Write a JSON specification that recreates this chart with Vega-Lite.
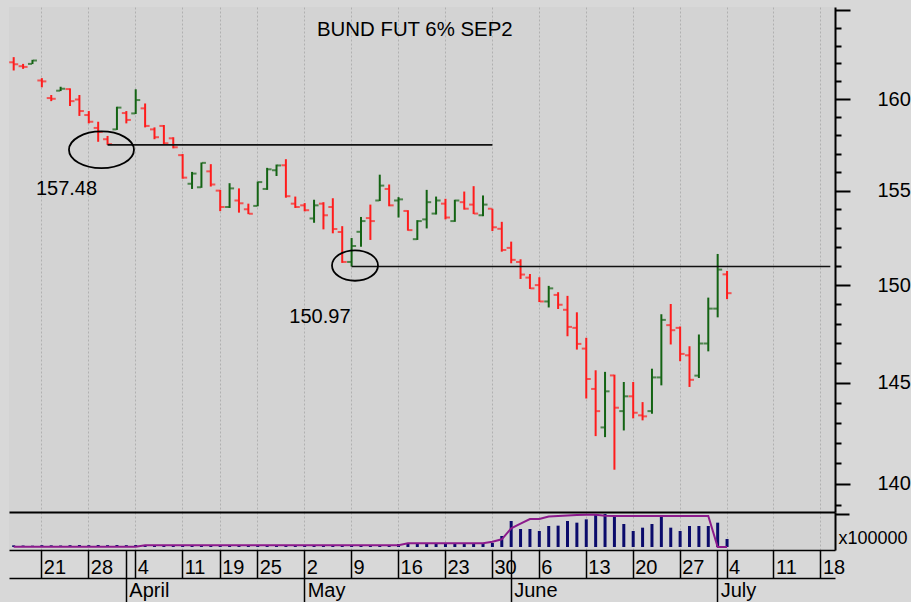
{
  "$schema": "https://vega.github.io/schema/vega-lite/v6.json",
  "background": "#d8d8d8",
  "padding": {"left": 9, "top": 0, "right": 0, "bottom": 0},
  "spacing": 0,
  "bounds": "flush",
  "config": {
    "view": {"stroke": null, "fill": "#d3d3d3"},
    "font": "Liberation Sans",
    "text": {"font": "Liberation Sans"}
  },
  "resolve": {"scale": {"x": "independent", "y": "independent"}},
  "datasets": {
    "px": [
      {"d": "2022-03-16", "o": 162.06, "h": 162.35, "l": 161.60, "c": 161.95, "v": 50000, "oi": 10000},
      {"d": "2022-03-17", "o": 161.84, "h": 161.97, "l": 161.69, "c": 161.80, "v": 45000, "oi": 10000},
      {"d": "2022-03-18", "o": 161.97, "h": 162.20, "l": 161.96, "c": 162.16, "v": 40000, "oi": 10000},
      {"d": "2022-03-21", "o": 161.04, "h": 161.17, "l": 160.66, "c": 160.99, "v": 55000, "oi": 10000},
      {"d": "2022-03-22", "o": 160.06, "h": 160.23, "l": 159.89, "c": 160.02, "v": 50000, "oi": 10000},
      {"d": "2022-03-23", "o": 160.47, "h": 160.69, "l": 160.45, "c": 160.58, "v": 45000, "oi": 10000},
      {"d": "2022-03-24", "o": 160.56, "h": 160.60, "l": 159.62, "c": 159.89, "v": 55000, "oi": 10000},
      {"d": "2022-03-25", "o": 159.98, "h": 160.23, "l": 159.07, "c": 159.34, "v": 60000, "oi": 10000},
      {"d": "2022-03-28", "o": 159.12, "h": 159.34, "l": 158.66, "c": 158.75, "v": 55000, "oi": 10000},
      {"d": "2022-03-29", "o": 158.41, "h": 158.75, "l": 157.65, "c": 158.19, "v": 60000, "oi": 10000},
      {"d": "2022-03-30", "o": 157.79, "h": 157.97, "l": 157.48, "c": 157.52, "v": 55000, "oi": 10000},
      {"d": "2022-03-31", "o": 158.33, "h": 159.58, "l": 158.30, "c": 159.53, "v": 60000, "oi": 10000},
      {"d": "2022-04-01", "o": 159.23, "h": 159.34, "l": 158.66, "c": 158.85, "v": 55000, "oi": 10000},
      {"d": "2022-04-04", "o": 159.21, "h": 160.55, "l": 159.18, "c": 159.95, "v": 60000, "oi": 10000},
      {"d": "2022-04-05", "o": 159.49, "h": 159.76, "l": 158.44, "c": 158.52, "v": 60000, "oi": 50000},
      {"d": "2022-04-06", "o": 158.33, "h": 158.44, "l": 157.79, "c": 157.90, "v": 55000, "oi": 50000},
      {"d": "2022-04-07", "o": 158.52, "h": 158.57, "l": 157.53, "c": 157.57, "v": 60000, "oi": 50000},
      {"d": "2022-04-08", "o": 157.84, "h": 157.90, "l": 157.29, "c": 157.35, "v": 55000, "oi": 50000},
      {"d": "2022-04-11", "o": 156.92, "h": 156.98, "l": 155.64, "c": 155.70, "v": 60000, "oi": 50000},
      {"d": "2022-04-12", "o": 155.37, "h": 156.01, "l": 155.09, "c": 155.92, "v": 55000, "oi": 50000},
      {"d": "2022-04-13", "o": 155.18, "h": 156.52, "l": 155.15, "c": 156.50, "v": 60000, "oi": 50000},
      {"d": "2022-04-14", "o": 156.04, "h": 156.43, "l": 155.22, "c": 155.33, "v": 55000, "oi": 50000},
      {"d": "2022-04-19", "o": 155.00, "h": 155.04, "l": 153.90, "c": 154.12, "v": 60000, "oi": 50000},
      {"d": "2022-04-20", "o": 154.12, "h": 155.40, "l": 154.07, "c": 155.12, "v": 55000, "oi": 50000},
      {"d": "2022-04-21", "o": 154.47, "h": 155.12, "l": 153.82, "c": 154.32, "v": 60000, "oi": 50000},
      {"d": "2022-04-22", "o": 154.00, "h": 154.30, "l": 153.74, "c": 153.76, "v": 55000, "oi": 50000},
      {"d": "2022-04-25", "o": 154.18, "h": 155.49, "l": 154.16, "c": 155.46, "v": 60000, "oi": 50000},
      {"d": "2022-04-26", "o": 155.09, "h": 156.23, "l": 155.04, "c": 156.15, "v": 55000, "oi": 50000},
      {"d": "2022-04-27", "o": 156.10, "h": 156.41, "l": 155.79, "c": 156.36, "v": 60000, "oi": 50000},
      {"d": "2022-04-28", "o": 156.37, "h": 156.70, "l": 154.62, "c": 154.70, "v": 60000, "oi": 50000},
      {"d": "2022-04-29", "o": 154.30, "h": 154.68, "l": 154.07, "c": 154.12, "v": 55000, "oi": 50000},
      {"d": "2022-05-02", "o": 154.21, "h": 154.33, "l": 153.89, "c": 153.95, "v": 60000, "oi": 50000},
      {"d": "2022-05-03", "o": 153.51, "h": 154.51, "l": 153.28, "c": 154.21, "v": 55000, "oi": 50000},
      {"d": "2022-05-04", "o": 154.30, "h": 154.38, "l": 152.93, "c": 153.68, "v": 60000, "oi": 50000},
      {"d": "2022-05-05", "o": 154.12, "h": 154.59, "l": 152.72, "c": 152.95, "v": 60000, "oi": 50000},
      {"d": "2022-05-06", "o": 152.79, "h": 153.10, "l": 151.16, "c": 151.21, "v": 55000, "oi": 50000},
      {"d": "2022-05-09", "o": 151.21, "h": 152.47, "l": 150.97, "c": 152.05, "v": 60000, "oi": 50000},
      {"d": "2022-05-10", "o": 152.80, "h": 153.59, "l": 152.01, "c": 153.37, "v": 60000, "oi": 50000},
      {"d": "2022-05-11", "o": 153.53, "h": 154.25, "l": 152.37, "c": 153.37, "v": 55000, "oi": 50000},
      {"d": "2022-05-12", "o": 154.47, "h": 155.86, "l": 154.44, "c": 155.27, "v": 60000, "oi": 50000},
      {"d": "2022-05-13", "o": 155.09, "h": 155.33, "l": 154.16, "c": 154.21, "v": 60000, "oi": 50000},
      {"d": "2022-05-16", "o": 154.47, "h": 154.65, "l": 153.56, "c": 154.53, "v": 90000, "oi": 50000},
      {"d": "2022-05-17", "o": 153.91, "h": 153.95, "l": 152.86, "c": 152.89, "v": 100000, "oi": 110000},
      {"d": "2022-05-18", "o": 152.41, "h": 153.42, "l": 152.37, "c": 153.37, "v": 100000, "oi": 110000},
      {"d": "2022-05-19", "o": 153.46, "h": 155.04, "l": 152.98, "c": 154.38, "v": 110000, "oi": 110000},
      {"d": "2022-05-20", "o": 153.77, "h": 154.68, "l": 153.72, "c": 154.47, "v": 100000, "oi": 110000},
      {"d": "2022-05-23", "o": 154.30, "h": 154.56, "l": 153.46, "c": 153.56, "v": 110000, "oi": 110000},
      {"d": "2022-05-24", "o": 153.37, "h": 154.51, "l": 153.33, "c": 154.47, "v": 110000, "oi": 110000},
      {"d": "2022-05-25", "o": 154.38, "h": 154.95, "l": 153.98, "c": 154.03, "v": 120000, "oi": 110000},
      {"d": "2022-05-26", "o": 154.25, "h": 155.24, "l": 153.74, "c": 153.77, "v": 120000, "oi": 110000},
      {"d": "2022-05-27", "o": 153.68, "h": 154.74, "l": 153.63, "c": 154.25, "v": 120000, "oi": 110000},
      {"d": "2022-05-30", "o": 154.03, "h": 154.03, "l": 152.84, "c": 153.04, "v": 120000, "oi": 160000},
      {"d": "2022-05-31", "o": 152.96, "h": 153.33, "l": 151.75, "c": 151.84, "v": 330000, "oi": 230000},
      {"d": "2022-06-01", "o": 151.95, "h": 152.28, "l": 151.14, "c": 151.32, "v": 780000, "oi": 560000},
      {"d": "2022-06-02", "o": 151.21, "h": 151.35, "l": 150.32, "c": 150.55, "v": 540000, "oi": 700000},
      {"d": "2022-06-03", "o": 150.39, "h": 150.58, "l": 149.80, "c": 149.83, "v": 540000, "oi": 840000},
      {"d": "2022-06-06", "o": 150.00, "h": 150.41, "l": 149.12, "c": 149.15, "v": 480000, "oi": 840000},
      {"d": "2022-06-07", "o": 149.15, "h": 149.96, "l": 148.84, "c": 149.83, "v": 630000, "oi": 915000},
      {"d": "2022-06-08", "o": 149.49, "h": 149.63, "l": 148.76, "c": 148.98, "v": 640000, "oi": 930000},
      {"d": "2022-06-09", "o": 148.72, "h": 149.44, "l": 147.36, "c": 147.84, "v": 780000, "oi": 945000},
      {"d": "2022-06-10", "o": 147.79, "h": 148.59, "l": 146.68, "c": 146.97, "v": 730000, "oi": 960000},
      {"d": "2022-06-13", "o": 146.73, "h": 147.28, "l": 144.21, "c": 145.19, "v": 830000, "oi": 970000},
      {"d": "2022-06-14", "o": 144.69, "h": 145.63, "l": 142.34, "c": 143.58, "v": 990000, "oi": 970000},
      {"d": "2022-06-15", "o": 142.77, "h": 145.55, "l": 142.29, "c": 144.57, "v": 990000, "oi": 940000},
      {"d": "2022-06-16", "o": 145.37, "h": 145.41, "l": 140.69, "c": 143.75, "v": 910000, "oi": 930000},
      {"d": "2022-06-17", "o": 143.58, "h": 145.04, "l": 142.62, "c": 144.32, "v": 690000, "oi": 930000},
      {"d": "2022-06-20", "o": 144.32, "h": 145.04, "l": 143.22, "c": 143.50, "v": 480000, "oi": 930000},
      {"d": "2022-06-21", "o": 143.37, "h": 144.03, "l": 143.12, "c": 143.32, "v": 580000, "oi": 930000},
      {"d": "2022-06-22", "o": 143.58, "h": 145.71, "l": 143.45, "c": 145.27, "v": 690000, "oi": 930000},
      {"d": "2022-06-23", "o": 145.27, "h": 148.49, "l": 144.87, "c": 148.20, "v": 910000, "oi": 930000},
      {"d": "2022-06-24", "o": 147.93, "h": 149.02, "l": 146.94, "c": 147.67, "v": 580000, "oi": 930000},
      {"d": "2022-06-27", "o": 147.79, "h": 147.86, "l": 146.09, "c": 146.46, "v": 480000, "oi": 930000},
      {"d": "2022-06-28", "o": 146.39, "h": 146.85, "l": 144.79, "c": 145.15, "v": 630000, "oi": 930000},
      {"d": "2022-06-29", "o": 145.36, "h": 147.45, "l": 145.24, "c": 146.99, "v": 630000, "oi": 930000},
      {"d": "2022-06-30", "o": 146.99, "h": 149.35, "l": 146.59, "c": 148.78, "v": 630000, "oi": 930000},
      {"d": "2022-07-01", "o": 148.78, "h": 151.63, "l": 148.33, "c": 150.81, "v": 730000, "oi": 0},
      {"d": "2022-07-04", "o": 150.56, "h": 150.74, "l": 149.27, "c": 149.58, "v": 240000, "oi": 0}
    ],
    "levels": [
      {"from": "2022-03-30", "to": "2022-05-30", "level": 157.48},
      {"from": "2022-05-09", "to": "2022-07-19", "level": 150.97}
    ],
    "notes": [
      {"at": "2022-03-24", "level": 155.08, "label": "157.48"},
      {"at": "2022-05-04", "level": 148.35, "label": "150.97"}
    ],
    "ring1": [{"at": "2022-03-29", "level": 157.21}],
    "ring2": [{"at": "2022-05-09", "level": 151.02}],
    "heading": [{"at": "2022-05-18", "level": 163.9, "label": "BUND FUT 6% SEP2"}]
  },
  "vconcat": [
    {
      "width": 826,
      "height": 505,
      "layer": [
        {
          "data": {"name": "px"},
          "mark": {"type": "rule", "strokeWidth": 2},
          "encoding": {
            "x": {
              "field": "d", "type": "ordinal",
              "scale": {"paddingInner": 0, "paddingOuter": 0, "domain": ["2022-03-16","2022-03-17","2022-03-18","2022-03-21","2022-03-22","2022-03-23","2022-03-24","2022-03-25","2022-03-28","2022-03-29","2022-03-30","2022-03-31","2022-04-01","2022-04-04","2022-04-05","2022-04-06","2022-04-07","2022-04-08","2022-04-11","2022-04-12","2022-04-13","2022-04-14","2022-04-19","2022-04-20","2022-04-21","2022-04-22","2022-04-25","2022-04-26","2022-04-27","2022-04-28","2022-04-29","2022-05-02","2022-05-03","2022-05-04","2022-05-05","2022-05-06","2022-05-09","2022-05-10","2022-05-11","2022-05-12","2022-05-13","2022-05-16","2022-05-17","2022-05-18","2022-05-19","2022-05-20","2022-05-23","2022-05-24","2022-05-25","2022-05-26","2022-05-27","2022-05-30","2022-05-31","2022-06-01","2022-06-02","2022-06-03","2022-06-06","2022-06-07","2022-06-08","2022-06-09","2022-06-10","2022-06-13","2022-06-14","2022-06-15","2022-06-16","2022-06-17","2022-06-20","2022-06-21","2022-06-22","2022-06-23","2022-06-24","2022-06-27","2022-06-28","2022-06-29","2022-06-30","2022-07-01","2022-07-04","2022-07-05","2022-07-06","2022-07-07","2022-07-08","2022-07-11","2022-07-12","2022-07-13","2022-07-14","2022-07-15","2022-07-18","2022-07-19"]},
              "axis": {
                "orient": "bottom", "title": null,
                "values": ["2022-03-21","2022-03-28","2022-04-04","2022-04-11","2022-04-19","2022-04-25","2022-05-02","2022-05-09","2022-05-16","2022-05-23","2022-05-30","2022-06-06","2022-06-13","2022-06-20","2022-06-27","2022-07-04","2022-07-11","2022-07-18"],
                "labels": false, "ticks": false, "domain": false,
                "grid": true, "gridColor": "#b0b0b0", "gridDash": [2, 2], "gridWidth": 1
              }
            },
            "y": {
              "field": "l", "type": "quantitative",
              "scale": {"type": "log", "domain": [138.64, 165.2], "nice": false, "zero": false},
              "axis": {
                "orient": "right", "title": null, "grid": false,
                "values": [139,140,141,142,143,144,145,146,147,148,149,150,151,152,153,154,155,156,157,158,159,160,161,162,163,164,165],
                "domain": true, "domainColor": "#000000", "domainWidth": 2,
                "tickColor": "#000000", "tickWidth": 2,
                "tickSize": {"condition": {"test": "datum.value % 5 == 0", "value": 15}, "value": 6},
                "labelExpr": "datum.value % 5 == 0 && datum.value < 165 ? format(datum.value, 'd') : ''",
                "labelFontSize": 20, "labelColor": "#000000", "labelPadding": 27,
                "labelFlush": false, "labelOverlap": false, "labelBaseline": "middle"
              }
            },
            "y2": {"field": "h"},
            "color": {"condition": {"test": "datum.c >= datum.o", "value": "#136313"}, "value": "#ff1c1c"}
          }
        },
        {
          "data": {"name": "px"},
          "mark": {"type": "tick", "orient": "horizontal", "size": 4, "thickness": 2, "xOffset": -2.5},
          "encoding": {
            "x": {"field": "d", "type": "ordinal"},
            "y": {"field": "o", "type": "quantitative"},
            "color": {"condition": {"test": "datum.c >= datum.o", "value": "#136313"}, "value": "#ff1c1c"}
          }
        },
        {
          "data": {"name": "px"},
          "mark": {"type": "tick", "orient": "horizontal", "size": 4, "thickness": 2, "xOffset": 2.5},
          "encoding": {
            "x": {"field": "d", "type": "ordinal"},
            "y": {"field": "c", "type": "quantitative"},
            "color": {"condition": {"test": "datum.c >= datum.o", "value": "#136313"}, "value": "#ff1c1c"}
          }
        },
        {
          "data": {"name": "levels"},
          "mark": {"type": "rule", "color": "#111111", "strokeWidth": 1.6},
          "encoding": {
            "x": {"field": "from", "type": "ordinal"},
            "x2": {"field": "to"},
            "y": {"field": "level", "type": "quantitative"}
          }
        },
        {
          "data": {"name": "ring1"},
          "mark": {"type": "point", "filled": false, "stroke": "#000000", "strokeWidth": 1.8, "opacity": 1, "size": 4225, "xOffset": 3.3,
                   "shape": "M -1 0 A 1 0.565 0 1 0 1 0 A 1 0.565 0 1 0 -1 0 Z"},
          "encoding": {
            "x": {"field": "at", "type": "ordinal"},
            "y": {"field": "level", "type": "quantitative"}
          }
        },
        {
          "data": {"name": "ring2"},
          "mark": {"type": "point", "filled": false, "stroke": "#000000", "strokeWidth": 1.8, "opacity": 1, "size": 2116, "xOffset": 3.4,
                   "shape": "M -1 0 A 1 0.66 0 1 0 1 0 A 1 0.66 0 1 0 -1 0 Z"},
          "encoding": {
            "x": {"field": "at", "type": "ordinal"},
            "y": {"field": "level", "type": "quantitative"}
          }
        },
        {
          "data": {"name": "notes"},
          "mark": {"type": "text", "fontSize": 20, "color": "#000000", "align": "center", "baseline": "middle", "dx": -3.5},
          "encoding": {
            "x": {"field": "at", "type": "ordinal"},
            "y": {"field": "level", "type": "quantitative"},
            "text": {"field": "label"}
          }
        },
        {
          "data": {"name": "heading"},
          "mark": {"type": "text", "fontSize": 20.4, "color": "#000000", "align": "center", "baseline": "middle", "dx": -2.5},
          "encoding": {
            "x": {"field": "at", "type": "ordinal"},
            "y": {"field": "level", "type": "quantitative"},
            "text": {"field": "label"}
          }
        }
      ]
    },
    {
      "width": 826,
      "height": 38,
      "data": {"name": "px"},
      "resolve": {"axis": {"x": "independent"}},
      "layer": [
        {
          "mark": {"type": "bar", "width": 3, "color": "#0b0b6b"},
          "encoding": {
            "x": {
              "field": "d", "type": "ordinal",
              "scale": {"paddingInner": 0, "paddingOuter": 0, "domain": ["2022-03-16","2022-03-17","2022-03-18","2022-03-21","2022-03-22","2022-03-23","2022-03-24","2022-03-25","2022-03-28","2022-03-29","2022-03-30","2022-03-31","2022-04-01","2022-04-04","2022-04-05","2022-04-06","2022-04-07","2022-04-08","2022-04-11","2022-04-12","2022-04-13","2022-04-14","2022-04-19","2022-04-20","2022-04-21","2022-04-22","2022-04-25","2022-04-26","2022-04-27","2022-04-28","2022-04-29","2022-05-02","2022-05-03","2022-05-04","2022-05-05","2022-05-06","2022-05-09","2022-05-10","2022-05-11","2022-05-12","2022-05-13","2022-05-16","2022-05-17","2022-05-18","2022-05-19","2022-05-20","2022-05-23","2022-05-24","2022-05-25","2022-05-26","2022-05-27","2022-05-30","2022-05-31","2022-06-01","2022-06-02","2022-06-03","2022-06-06","2022-06-07","2022-06-08","2022-06-09","2022-06-10","2022-06-13","2022-06-14","2022-06-15","2022-06-16","2022-06-17","2022-06-20","2022-06-21","2022-06-22","2022-06-23","2022-06-24","2022-06-27","2022-06-28","2022-06-29","2022-06-30","2022-07-01","2022-07-04","2022-07-05","2022-07-06","2022-07-07","2022-07-08","2022-07-11","2022-07-12","2022-07-13","2022-07-14","2022-07-15","2022-07-18","2022-07-19"]},
              "axis": {
                "orient": "bottom", "title": null,
                "values": ["2022-03-21","2022-03-28","2022-04-01","2022-04-04","2022-04-11","2022-04-19","2022-04-25","2022-05-02","2022-05-09","2022-05-16","2022-05-23","2022-05-30","2022-06-01","2022-06-06","2022-06-13","2022-06-20","2022-06-27","2022-07-01","2022-07-04","2022-07-11","2022-07-18"],
                "domain": true, "domainColor": "#000000", "domainWidth": 1.5,
                "ticks": true, "tickSize": 28, "tickColor": "#000000", "tickWidth": 1.5,
                "grid": true, "gridColor": "#b0b0b0", "gridDash": [2, 2], "gridWidth": 1,
                "gridOpacity": {"condition": {"test": "datum.value == '2022-04-01' || datum.value == '2022-06-01' || datum.value == '2022-07-01'", "value": 0}, "value": 1},
                "labelExpr": "(datum.value == '2022-04-01' || datum.value == '2022-06-01' || datum.value == '2022-07-01') ? '' : '' + toNumber(substring(datum.value, 8, 10))",
                "labelAngle": 0, "labelAlign": "left", "labelBaseline": "middle", "labelPadding": -11, "labelOffset": 2,
                "labelFontSize": 20, "labelColor": "#000000", "labelOverlap": false, "labelFlush": false
              }
            },
            "y": {
              "field": "v", "type": "quantitative",
              "scale": {"domain": [-90000, 1050000], "nice": false, "zero": false},
              "axis": {
                "orient": "right", "title": null, "grid": false,
                "values": [1000000, 750000, 255000],
                "domain": true, "domainColor": "#000000", "domainWidth": 2,
                "tickColor": "#000000", "tickWidth": 2, "tickSize": 14,
                "tickOpacity": {"condition": {"test": "datum.value < 300000", "value": 0}, "value": 1},
                "labelExpr": "datum.value == 255000 ? 'x100000' : ''",
                "labelFontSize": 18, "labelPadding": -11,
                "labelColor": "#000000", "labelBaseline": "middle",
                "labelFlush": false, "labelOverlap": false
              }
            }
          }
        },
        {
          "mark": {"type": "line", "color": "#8c1a8c", "strokeWidth": 2},
          "encoding": {
            "x": {"field": "d", "type": "ordinal", "axis": null},
            "y": {"field": "oi", "type": "quantitative"}
          }
        },
        {
          "mark": {"type": "tick", "opacity": 0},
          "encoding": {
            "x": {
              "field": "d", "type": "ordinal",
              "axis": {
                "orient": "top", "title": null,
                "domain": true, "domainColor": "#000000", "domainWidth": 1.8,
                "ticks": false, "labels": false, "grid": false
              }
            },
            "y": {"field": "v", "type": "quantitative"}
          }
        },
        {
          "mark": {"type": "tick", "opacity": 0},
          "encoding": {
            "x": {
              "field": "d", "type": "ordinal",
              "axis": {
                "orient": "bottom", "offset": 28, "title": null,
                "values": ["2022-04-01","2022-05-02","2022-06-01","2022-07-01"],
                "domain": true, "domainColor": "#000000", "domainWidth": 1.5,
                "ticks": true, "tickSize": 24, "tickColor": "#000000", "tickWidth": 1.5,
                "grid": false,
                "labelExpr": "datum.value == '2022-04-01' ? 'April' : datum.value == '2022-05-02' ? 'May' : datum.value == '2022-06-01' ? 'June' : 'July'",
                "labelAngle": 0, "labelAlign": "left", "labelBaseline": "middle", "labelPadding": -12, "labelOffset": 3,
                "labelFontSize": 20, "labelColor": "#000000", "labelOverlap": false, "labelFlush": false
              }
            },
            "y": {"field": "v", "type": "quantitative"}
          }
        }
      ]
    }
  ]
}
